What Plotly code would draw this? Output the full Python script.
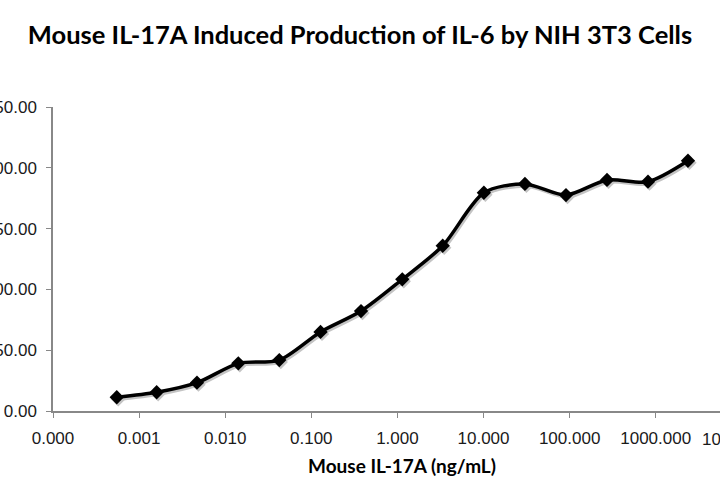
import math
import plotly.graph_objects as go

# Data
conc_ng_ml = [0.00055, 0.0016, 0.0047, 0.0142, 0.0425, 0.128, 0.378, 1.14, 3.36,
              10.1, 30.3, 90.8, 272, 814, 2370]
il6_response = [11.3, 15.4, 23.3, 39.2, 41.9, 65.0, 82.2, 108.3, 135.9,
                179.5, 186.7, 177.6, 190.0, 188.6, 205.8]

x_tick_vals = [0.0001, 0.001, 0.01, 0.1, 1, 10, 100, 1000, 10000]
x_tick_text = ["0.000", "0.001", "0.010", "0.100", "1.000", "10.000", "100.000",
               "1000.000", "10000.000"]
y_tick_vals = [0, 50, 100, 150, 200, 250]

title_text = "Mouse IL-17A Induced Production of IL-6 by NIH 3T3 Cells"
x_title = "Mouse IL-17A (ng/mL)"

tick_font = dict(family="Liberation Sans, Arial, sans-serif", size=17, color="#1a1a1a")

W, H = 720, 480
ML, MR, MT, MB = 53, 0, 107, 69
px_per_decade = 86.1
x_min = math.log10(x_tick_vals[0])
x_max = x_min + (W - ML) / px_per_decade
y_rng = [0, 250]
y_per_px = (y_rng[1] - y_rng[0]) / (H - MT - MB)

# soft drop shadow (Excel style): same series shifted by ~1.5 px right / down
sdx, sdy = 1.5, 2.0
shadow_x = [v * 10 ** (sdx / px_per_decade) for v in conc_ng_ml]
shadow_y = [v - sdy * y_per_px for v in il6_response]

fig = go.Figure()
fig.add_trace(go.Scatter(
    x=shadow_x, y=shadow_y,
    mode="lines+markers",
    line=dict(color="#c4c4c4", width=3.5, shape="spline", smoothing=0.8),
    marker=dict(symbol="diamond", size=11, color="#c4c4c4"),
    cliponaxis=False, showlegend=False, hoverinfo="skip",
))
fig.add_trace(go.Scatter(
    x=conc_ng_ml, y=il6_response,
    mode="lines+markers",
    line=dict(color="black", width=3.5, shape="spline", smoothing=0.8),
    marker=dict(symbol="diamond", size=11, color="black"),
    cliponaxis=False, showlegend=False,
))

axis_common = dict(
    ticks="outside", ticklen=5, tickcolor="#888888",
    showline=True, linecolor="#888888", linewidth=1.5,
    showgrid=False, zeroline=False, tickfont=tick_font, automargin=False,
)

fig.update_layout(
    width=W, height=H,
    margin=dict(l=ML, r=MR, t=MT, b=MB, autoexpand=False),
    paper_bgcolor="white", plot_bgcolor="white",
    title=dict(text="<b>" + title_text + "</b>", x=0.5, xanchor="center",
               y=1 - 35 / H, yanchor="middle",
               font=dict(family="Lato, Open Sans, sans-serif", size=25.5, color="black")),
    xaxis=dict(
        type="log", range=[x_min, x_max],
        tickvals=x_tick_vals, ticktext=x_tick_text, ticklabelstandoff=6,
        **axis_common,
    ),
    yaxis=dict(
        range=y_rng, tickvals=y_tick_vals, tickformat=".2f",
        ticklabelstandoff=6,
        **axis_common,
    ),
)

# x-axis title, centred where the reference places it
fig.add_annotation(
    x=(402 - ML) / (W - ML - MR), y=-(465 - (H - MB)) / (H - MT - MB),
    xref="paper", yref="paper", xanchor="center", yanchor="middle",
    text="<b>" + x_title + "</b>", showarrow=False,
    font=dict(family="Lato, Open Sans, sans-serif", size=19, color="black"),
)

# last x tick label lies beyond the visible plot edge; drawn in paper coords so it is clipped like the reference
fig.add_annotation(
    x=(math.log10(x_tick_vals[-1]) - x_min) / (x_max - x_min), y=0,
    xref="paper", yref="paper", xanchor="center",
    text=x_tick_text[-1], showarrow=False, yanchor="top", yshift=-17,
    font=tick_font,
)

fig.write_html("out.html", config={"displayModeBar": False},
               post_script="document.body.style.margin='0';")
